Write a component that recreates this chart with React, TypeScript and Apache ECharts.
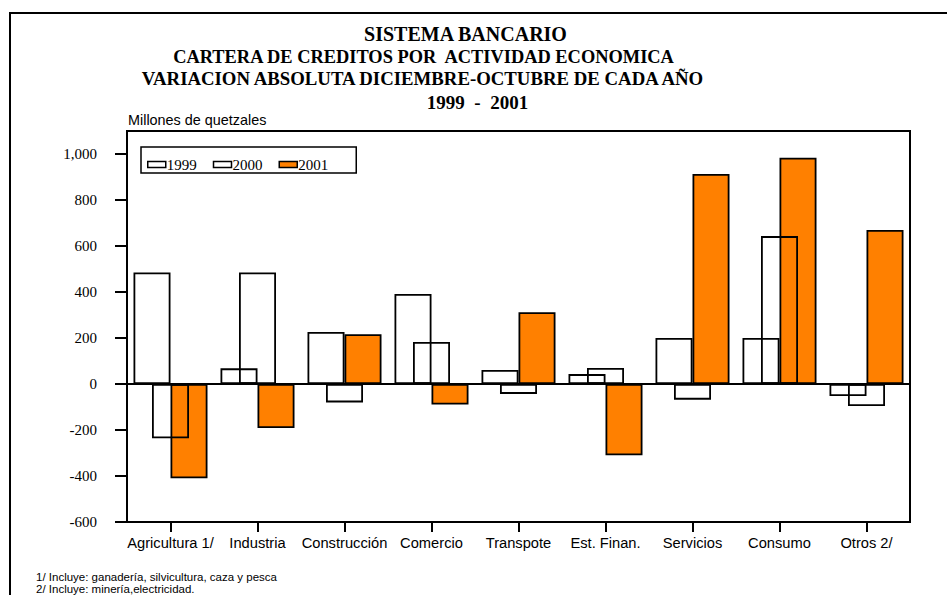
import React, { useEffect, useRef } from "react";
import * as echarts from "echarts";

// Sectors of the credit portfolio
const categories = [
  "Agricultura 1/",
  "Industria",
  "Construcción",
  "Comercio",
  "Transpote",
  "Est. Finan.",
  "Servicios",
  "Consumo",
  "Otros 2/",
];

// Absolute variation December-October, millions of quetzales
const v1999 = [485, 68, 226, 391, 61, 43, 200, 200, -52];
const v2000 = [-236, 485, -80, 183, -43, 70, -68, 643, -96];
const v2001 = [-410, -191, 216, -89, 312, -310, 913, 984, 670];

const seriesNames = ["1999", "2000", "2001"];
const yTicks = [-600, -400, -200, 0, 200, 400, 600, 800, 1000];

const titleLines = [
  "SISTEMA BANCARIO",
  "CARTERA DE CREDITOS POR  ACTIVIDAD ECONOMICA",
  "VARIACION ABSOLUTA DICIEMBRE-OCTUBRE DE CADA AÑO",
  "1999  -  2001",
];
const unitLabel = "Millones de quetzales";
const footnotes = [
  "1/ Incluye: ganadería, silvicultura, caza y pesca",
  "2/ Incluye: minería,electricidad.",
];

const SERIF = "Liberation Serif";
const SANS = "Liberation Sans";

function fmt(v: number): string {
  const s = Math.abs(v).toString().replace(/\B(?=(\d{3})+(?!\d))/g, ",");
  return v < 0 ? "-" + s : s;
}

function text(str: string, x: number, y: number, font: string, align: string) {
  return {
    type: "text",
    x,
    y,
    silent: true,
    style: {
      text: str,
      x: 0,
      y: 0,
      font,
      fill: "#000",
      textAlign: align,
      textVerticalAlign: "middle",
      align,
      verticalAlign: "middle",
    },
  };
}

export default function App() {
  const ref = useRef<HTMLDivElement>(null);

  useEffect(() => {
    if (!ref.current) return;
    const chart = echarts.init(ref.current, null, { renderer: "svg" });

    const barBase = {
      type: "bar",
      barWidth: 37,
      barGap: "-50%",
      itemStyle: { borderColor: "#000", borderWidth: 1.8 },
    };

    chart.setOption({
      animation: false,
      backgroundColor: "#fff",
      textStyle: { fontFamily: SERIF, color: "#000" },
      grid: {
        left: 127,
        right: 37,
        top: 131,
        bottom: 73,
        show: true,
        borderColor: "#000",
        borderWidth: 2,
        backgroundColor: "transparent",
      },
      legend: {
        data: seriesNames,
        left: 141,
        top: 147,
        orient: "horizontal",
        icon: "rect",
        itemWidth: 18,
        itemHeight: 6,
        itemGap: 16,
        padding: [10, 28, 1, 6],
        borderColor: "#000",
        borderWidth: 1.5,
        backgroundColor: "#fff",
        itemStyle: { borderColor: "#000", borderWidth: 1.5 },
        textStyle: {
          fontFamily: SERIF,
          fontSize: 15,
          color: "#000",
          padding: [1, 0, 0, -4],
        },
      },
      xAxis: {
        type: "category",
        data: categories,
        boundaryGap: true,
        axisLine: { show: true, onZero: false, lineStyle: { color: "#000", width: 2 } },
        axisTick: {
          show: true,
          alignWithLabel: true,
          length: 10,
          lineStyle: { color: "#000", width: 2 },
        },
        axisLabel: {
          interval: 0,
          margin: 13,
          fontFamily: SANS,
          fontSize: 14.7,
          color: "#000",
        },
        splitLine: { show: false },
      },
      yAxis: {
        type: "value",
        min: -600,
        max: 1100,
        interval: 200,
        axisLine: { show: true, lineStyle: { color: "#000", width: 2 } },
        axisTick: {
          show: true,
          length: 12,
          customValues: yTicks,
          lineStyle: { color: "#000", width: 2 },
        },
        axisLabel: {
          showMaxLabel: false,
          margin: 30,
          fontFamily: SERIF,
          fontSize: 15,
          color: "#000",
          formatter: (v: number) => (yTicks.indexOf(v) >= 0 ? fmt(v) : ""),
        },
        splitLine: { show: false },
      },
      series: [
        {
          ...barBase,
          name: seriesNames[0],
          data: v1999,
          z: 4,
          itemStyle: { ...barBase.itemStyle, color: "rgba(255,255,255,0)" },
          markLine: {
            silent: true,
            symbol: "none",
            label: { show: false },
            lineStyle: { color: "#000", width: 2, type: "solid" },
            data: [{ yAxis: 0 }],
          },
        },
        {
          ...barBase,
          name: seriesNames[1],
          data: v2000,
          z: 4,
          itemStyle: { ...barBase.itemStyle, color: "rgba(255,255,255,0)" },
        },
        {
          ...barBase,
          name: seriesNames[2],
          data: v2001,
          z: 2,
          itemStyle: { ...barBase.itemStyle, color: "#FF8000" },
        },
      ],
      graphic: [
        {
          type: "rect",
          silent: true,
          shape: { x: 10, y: 13, width: 1000, height: 700 },
          style: { fill: "none", stroke: "#000", lineWidth: 2 },
        },
        text(titleLines[0], 465.5, 34, `bold 20px ${SERIF}`, "center"),
        text(titleLines[1], 423.5, 56.5, `bold 18.4px ${SERIF}`, "center"),
        text(titleLines[2], 422.5, 78, `bold 18.8px ${SERIF}`, "center"),
        text(titleLines[3], 477.5, 102, `bold 19px ${SERIF}`, "center"),
        text(unitLabel, 128, 120, `14.4px ${SANS}`, "left"),
        text(footnotes[0], 36, 577, `11.5px ${SANS}`, "left"),
        text(footnotes[1], 36, 589, `11.5px ${SANS}`, "left"),
      ],
    });

    return () => chart.dispose();
  }, []);

  return (
    <div
      ref={ref}
      style={{ position: "absolute", left: 0, top: 0, width: 947, height: 595 }}
    />
  );
}
